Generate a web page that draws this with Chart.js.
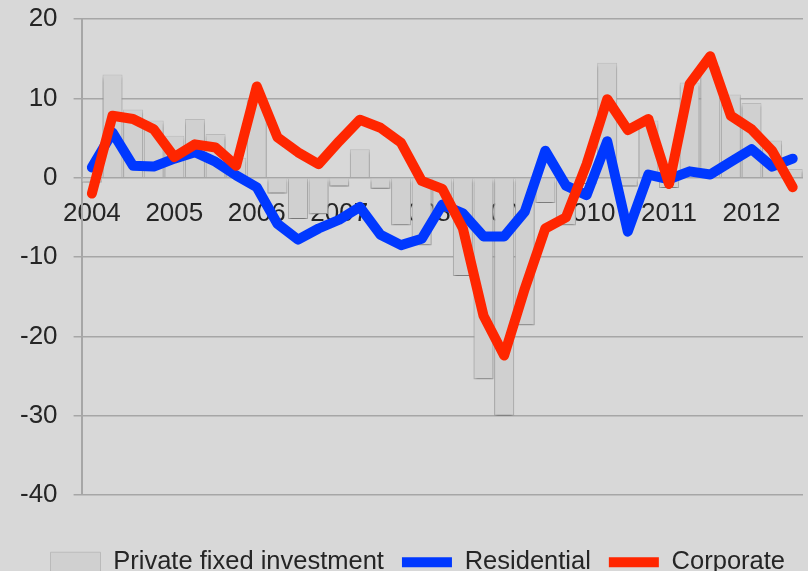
<!DOCTYPE html>
<html>
<head>
<meta charset="utf-8">
<script src="https://cdn.jsdelivr.net/npm/chart.js@4/dist/chart.umd.min.js"></script>
<style>
  html, body { margin: 0; padding: 0; background: #d8d8d8; }
  #wrap { width: 808px; height: 571px; }
</style>
</head>
<body>
<div id="wrap"><canvas id="invest-chart" width="808" height="571"></canvas></div>
<script>
// quarterly growth, 2004 Q1 - 2012 Q3
const quarters = [
  "2004Q1","2004Q2","2004Q3","2004Q4",
  "2005Q1","2005Q2","2005Q3","2005Q4",
  "2006Q1","2006Q2","2006Q3","2006Q4",
  "2007Q1","2007Q2","2007Q3","2007Q4",
  "2008Q1","2008Q2","2008Q3","2008Q4",
  "2009Q1","2009Q2","2009Q3","2009Q4",
  "2010Q1","2010Q2","2010Q3","2010Q4",
  "2011Q1","2011Q2","2011Q3","2011Q4",
  "2012Q1","2012Q2","2012Q3"
]

const privateFixed = [
  -0.6, 13.0, 8.6, 7.2,
  5.3, 7.4, 5.5, 2.5,
  10.0, -2.0, -5.2, -4.6,
  -1.1, 3.6, -1.4, -6.0,
  -8.5, -4.3, -12.4, -25.4,
  -30.0, -18.6, -3.2, -6.0,
  -0.8, 14.5, -1.1, 7.2,
  -1.3, 12.0, 14.0, 10.5,
  9.4, 4.7, 1.1
]

const residential = [
  1.3, 5.7, 1.5, 1.4,
  2.4, 3.2, 2.0, 0.3,
  -1.2, -5.8, -7.8, -6.4,
  -5.3, -3.7, -7.2, -8.5,
  -7.7, -3.4, -4.5, -7.4,
  -7.4, -4.3, 3.4, -1.0,
  -2.2, 4.6, -6.8, 0.4,
  -0.2, 0.8, 0.4, 2.0,
  3.6, 1.4, 2.4
]

const corporate = [
  -2.0, 7.8, 7.4, 6.1,
  2.6, 4.2, 3.8, 1.5,
  11.5, 5.1, 3.2, 1.7,
  4.6, 7.3, 6.3, 4.4,
  -0.4, -1.4, -6.4, -17.4,
  -22.4, -14.0, -6.4, -5.0,
  1.7, 9.9, 6.0, 7.4,
  -0.8, 11.8, 15.3, 7.8,
  6.1, 3.4, -1.2
]

const yTicks = [-40, -30, -20, -10, 0, 10, 20]

const gridGray = "#a6a6a6"
const textColor = "#252525"
const fontFamily = "'Liberation Sans', Arial, sans-serif"

// soft drop shadow under the bars only
const barShadow = {
  id: "barShadow",
  beforeDatasetDraw(chart, args) {
    if (args.meta.type !== "bar") return
    const ctx = chart.ctx
    ctx.save()
    ctx.shadowColor = "rgba(0,0,0,0.38)"
    ctx.shadowOffsetY = 3
    ctx.shadowBlur = 3
  },
  afterDatasetDraw(chart, args) {
    if (args.meta.type !== "bar") return
    chart.ctx.restore()
  }
}

// labels may hang over the plot edges, don't shrink the plot for them
function noEdgePadding(axis) {
  axis.paddingTop = 0
  axis.paddingBottom = 0
  axis.paddingLeft = 0
  axis.paddingRight = 0
}

let ctx = document.getElementById("invest-chart").getContext("2d")

const investChart = new Chart(ctx, {
  type: "bar",
  data: {
    labels: quarters,
    datasets: [{
      label: "Private fixed investment",
      data: privateFixed,
      backgroundColor: "#d0d0d0",
      borderColor: "#bababa",
      borderWidth: 1,
      barPercentage: 1,
      categoryPercentage: 0.97,
      pointStyle: "rect",
      order: 3
    },
    {
      type: "line",
      label: "Residential",
      data: residential,
      borderColor: "#0038ff",
      backgroundColor: "#0038ff",
      borderWidth: 10,
      borderJoinStyle: "round",
      borderCapStyle: "round",
      pointRadius: 0,
      pointStyle: "line",
      tension: 0,
      order: 2
    },
    {
      type: "line",
      label: "Corporate",
      data: corporate,
      borderColor: "#ff2600",
      backgroundColor: "#ff2600",
      borderWidth: 10,
      borderJoinStyle: "round",
      borderCapStyle: "round",
      pointRadius: 0,
      pointStyle: "line",
      tension: 0,
      order: 1
    }]
  },
  options: {
    responsive: false,
    animation: false,
    layout: {
      padding: { left: 4, right: 5, top: 19, bottom: -14 }
    },
    plugins: {
      tooltip: { enabled: false },
      legend: {
        position: "bottom",
        align: "end",
        title: { display: true, text: "", padding: { top: 22, bottom: 0 } },
        labels: {
          usePointStyle: true,
          pointStyleWidth: 50,
          boxHeight: 20,
          padding: 18,
          color: textColor,
          font: { family: fontFamily, size: 25.5 },
          sort: (a, b) => a.datasetIndex - b.datasetIndex
        }
      }
    },
    scales: {
      x: {
        position: { y: 0 },
        offset: true,
        afterFit: noEdgePadding,
        grid: { display: false, drawTicks: false },
        border: { display: false },
        ticks: {
          autoSkip: false,
          maxRotation: 0,
          padding: 21,
          color: textColor,
          font: { family: fontFamily, size: 26 },
          callback: function(val, i) {
            let q = quarters[i]
            return q.endsWith("Q1") ? q.slice(0, 4) : ""
          }
        }
      },
      y: {
        min: yTicks[0],
        max: yTicks[yTicks.length - 1],
        afterBuildTicks: function(axis) {
          axis.ticks = yTicks.map(v => ({ value: v }))
        },
        afterFit: noEdgePadding,
        grid: { color: gridGray, lineWidth: 1.5, tickLength: 8 },
        border: { color: gridGray, width: 2 },
        ticks: {
          padding: 16,
          color: textColor,
          font: { family: fontFamily, size: 26 }
        }
      }
    }
  },
  plugins: [barShadow]
})
</script>
</body>
</html>
